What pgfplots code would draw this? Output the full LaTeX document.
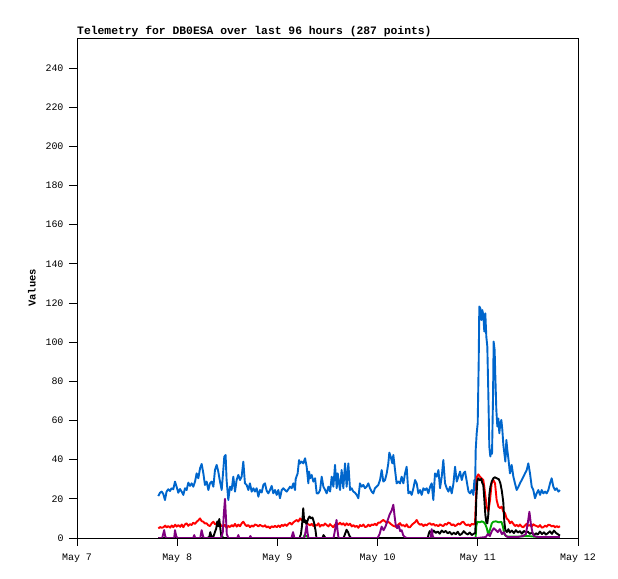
\documentclass[border=0pt]{standalone}
\usepackage{fontspec}
\setmainfont{Liberation Mono}
\setmonofont{Liberation Mono}
\usepackage{pgfplots}
\pgfplotsset{compat=1.18}
\definecolor{cblue}{RGB}{0,102,204}
\definecolor{cred}{RGB}{255,0,0}
\definecolor{cgreen}{RGB}{0,170,0}
\definecolor{cpurple}{RGB}{128,0,128}
\begin{document}
\begin{tikzpicture}
\path[use as bounding box] (0,0) rectangle (618bp,579bp);
\begin{axis}[
  at={(77bp,41bp)}, anchor=south west,
  scale only axis, width=501bp, height=500bp,
  xmin=0, xmax=5, ymin=0, ymax=255.3,
  xtick={0,1,2,3,4,5},
  xticklabels={May 7,May 8,May 9,May 10,May 11,May 12},
  ytick={0,20,...,240},
  xtick pos=bottom, ytick pos=left,
  tick align=outside, major tick length=8bp,
  tick style={black, line width=0.8bp},
  axis line style={black, line width=0.8bp},
  tick label style={font=\fontsize{10}{12}\selectfont},
  xticklabel style={yshift=-4bp},
  yticklabel style={xshift=-2bp},
  /pgf/number format/assume math mode=true,
  ylabel={Values},
  ylabel style={font=\bfseries\fontsize{10.5}{12}\selectfont, yshift=3bp},
  title={Telemetry for DB0ESA over last 96 hours (287 points)},
  title style={at={(0,1)}, anchor=base west, yshift=-2bp, inner sep=0pt,
    font=\bfseries\fontsize{11.4}{13}\selectfont},
  every axis plot/.append style={line width=1.9bp, line join=round},
]
% blue
\addplot[cblue] coordinates {
(0.811,21.4)(0.828,23.1)(0.845,23.7)(0.861,22.5)(0.878,19.4)(0.894,23.7)(0.911,24.9)(0.928,24.0)(0.944,25.4)(0.961,24.9)
(0.978,28.8)(0.994,26.2)(1.011,23.1)(1.028,25.0)(1.044,23.7)(1.061,22.0)(1.078,25.4)(1.094,24.5)(1.111,28.3)(1.128,26.6)
(1.144,27.9)(1.161,26.2)(1.178,28.8)(1.194,33.0)(1.211,30.5)(1.228,35.6)(1.244,37.8)(1.261,33.0)(1.277,27.1)(1.294,28.8)
(1.311,24.5)(1.327,27.9)(1.344,28.8)(1.361,26.2)(1.377,34.7)(1.394,37.3)(1.410,33.9)(1.427,28.8)(1.444,24.5)(1.460,34.7)
(1.470,41.5)(1.483,42.4)(1.493,29.6)(1.510,19.4)(1.527,26.2)(1.543,24.5)(1.560,31.3)(1.577,23.7)(1.593,29.6)(1.610,32.2)
(1.627,29.6)(1.643,31.3)(1.660,39.0)(1.676,27.9)(1.693,27.1)(1.710,24.5)(1.726,27.9)(1.743,23.7)(1.760,25.4)(1.776,23.7)
(1.793,25.4)(1.810,21.1)(1.826,24.5)(1.843,23.2)(1.860,27.1)(1.876,27.9)(1.893,24.1)(1.909,22.8)(1.926,24.5)(1.943,26.6)
(1.959,22.8)(1.976,24.5)(1.993,22.0)(2.009,24.5)(2.026,20.3)(2.043,24.5)(2.059,25.4)(2.076,24.5)(2.093,23.7)(2.109,24.9)
(2.126,26.2)(2.143,25.4)(2.159,27.9)(2.176,24.5)(2.182,30.0)(2.202,33.0)(2.216,39.8)(2.226,38.1)(2.242,39.0)(2.259,38.1)
(2.276,40.7)(2.292,36.4)(2.309,27.9)(2.316,33.9)(2.326,30.5)(2.342,32.2)(2.359,28.8)(2.376,30.5)(2.392,22.8)(2.409,22.8)
(2.426,24.5)(2.442,31.3)(2.459,26.2)(2.476,24.5)(2.492,22.8)(2.509,26.2)(2.526,23.7)(2.542,31.3)(2.559,26.2)(2.575,37.3)
(2.592,25.4)(2.602,33.0)(2.615,27.9)(2.625,24.5)(2.641,34.7)(2.658,25.4)(2.675,38.1)(2.691,26.2)(2.708,38.1)(2.725,24.5)
(2.741,25.4)(2.758,23.7)(2.775,23.1)(2.791,22.0)(2.808,20.3)(2.824,27.9)(2.841,26.2)(2.857,27.1)(2.874,25.4)(2.891,26.2)
(2.907,27.9)(2.924,25.4)(2.941,23.7)(2.957,22.8)(2.974,25.4)(2.990,26.2)(3.007,27.1)(3.024,29.6)(3.041,34.7)(3.057,28.8)
(3.074,29.6)(3.091,33.0)(3.107,38.1)(3.117,43.6)(3.131,41.5)(3.147,38.1)(3.157,42.4)(3.174,34.7)(3.190,27.9)(3.207,28.8)
(3.224,27.9)(3.240,31.3)(3.257,27.9)(3.274,33.0)(3.290,36.4)(3.307,22.8)(3.324,23.7)(3.340,22.0)(3.357,25.4)(3.374,29.6)
(3.390,27.9)(3.407,22.8)(3.424,24.5)(3.440,22.0)(3.457,25.4)(3.474,24.5)(3.490,25.4)(3.507,22.8)(3.524,26.2)(3.540,27.9)
(3.556,19.4)(3.573,33.0)(3.590,31.3)(3.607,34.7)(3.623,25.4)(3.640,31.3)(3.656,39.8)(3.673,27.9)(3.690,25.4)(3.707,23.7)
(3.723,26.2)(3.740,22.8)(3.757,27.9)(3.773,36.4)(3.790,28.8)(3.806,31.3)(3.823,33.9)(3.840,29.6)(3.857,33.0)(3.873,33.9)
(3.890,28.8)(3.907,23.7)(3.923,22.8)(3.940,24.5)(3.956,22.0)(3.966,29.6)(3.973,24.5)(3.979,45.0)(3.989,53.5)(3.999,58.6)
(4.009,90.1)(4.015,118.2)(4.025,117.3)(4.035,111.3)(4.045,116.4)(4.055,113.9)(4.065,105.4)(4.075,114.7)(4.085,102.8)(4.095,97.7)
(4.105,73.9)(4.115,46.7)(4.125,41.6)(4.135,44.8)(4.142,43.0)(4.152,72.2)(4.158,100.3)(4.168,96.0)(4.175,82.4)(4.185,65.4)
(4.195,56.9)(4.205,61.0)(4.215,53.5)(4.225,58.6)(4.235,60.3)(4.245,55.2)(4.255,47.5)(4.265,43.3)(4.275,39.0)(4.285,50.1)
(4.295,44.8)(4.305,40.7)(4.321,33.0)(4.338,37.3)(4.355,31.3)(4.371,27.9)(4.388,24.5)(4.404,26.0)(4.421,27.9)(4.438,29.6)
(4.455,31.3)(4.471,33.0)(4.488,34.7)(4.504,38.1)(4.521,33.0)(4.538,26.2)(4.554,24.5)(4.571,20.3)(4.588,22.8)(4.604,24.5)
(4.621,22.0)(4.638,24.5)(4.654,22.8)(4.671,23.7)(4.687,22.8)(4.704,24.5)(4.721,27.9)(4.737,30.5)(4.754,26.2)(4.771,24.5)
(4.787,25.4)(4.804,23.7)(4.820,24.5)
};
% red
\addplot[cred] coordinates {
(0.812,4.9)(0.830,5.6)(0.845,5.2)(0.862,5.5)(0.880,6.3)(0.895,5.4)(0.911,6.1)(0.930,5.3)(0.945,6.4)(0.961,5.5)
(0.980,6.8)(0.995,5.8)(1.011,6.6)(1.030,5.7)(1.045,6.9)(1.061,5.5)(1.078,7.0)(1.094,7.5)(1.110,6.2)(1.128,7.1)
(1.144,6.6)(1.160,7.8)(1.178,7.2)(1.194,8.3)(1.211,9.0)(1.228,10.0)(1.244,8.6)(1.261,8.3)(1.278,7.4)(1.294,7.5)
(1.310,6.5)(1.327,6.1)(1.344,7.5)(1.361,8.3)(1.378,7.0)(1.394,7.5)(1.410,6.6)(1.427,7.2)(1.444,6.1)(1.460,5.8)
(1.477,6.8)(1.494,5.0)(1.510,6.2)(1.527,5.6)(1.544,6.6)(1.560,5.9)(1.577,7.2)(1.594,5.8)(1.610,6.8)(1.627,6.0)
(1.644,7.5)(1.660,8.3)(1.677,6.9)(1.693,6.1)(1.710,6.6)(1.727,5.5)(1.743,6.4)(1.760,5.8)(1.776,6.9)(1.793,6.6)
(1.810,5.9)(1.826,6.7)(1.843,6.2)(1.860,5.8)(1.876,6.5)(1.893,5.4)(1.910,5.9)(1.926,5.0)(1.943,6.0)(1.960,5.5)
(1.976,6.2)(1.993,5.5)(2.010,6.4)(2.026,5.6)(2.043,6.7)(2.059,6.1)(2.076,7.0)(2.093,6.2)(2.110,7.2)(2.126,7.8)
(2.143,6.9)(2.160,8.0)(2.176,8.6)(2.192,9.2)(2.209,8.4)(2.226,10.0)(2.242,9.1)(2.259,10.4)(2.276,8.2)(2.292,7.5)
(2.309,7.0)(2.326,6.5)(2.342,7.2)(2.359,6.1)(2.376,6.8)(2.392,6.3)(2.409,7.5)(2.425,5.8)(2.442,6.7)(2.459,6.3)
(2.475,7.4)(2.492,6.6)(2.509,5.9)(2.525,7.1)(2.542,6.2)(2.558,5.5)(2.575,6.8)(2.592,7.6)(2.608,6.9)(2.625,7.8)
(2.642,6.8)(2.658,7.5)(2.675,6.4)(2.691,7.5)(2.708,6.6)(2.725,7.3)(2.742,5.9)(2.758,6.6)(2.775,5.7)(2.791,6.2)
(2.808,5.2)(2.825,6.6)(2.841,6.0)(2.858,6.9)(2.875,5.6)(2.891,5.8)(2.908,6.8)(2.924,6.0)(2.941,6.9)(2.957,6.6)
(2.974,7.3)(2.990,6.5)(3.007,7.9)(3.024,7.8)(3.040,8.6)(3.057,9.2)(3.074,8.5)(3.090,7.7)(3.107,8.3)(3.124,7.5)
(3.140,6.8)(3.157,6.2)(3.174,5.9)(3.190,5.5)(3.207,6.9)(3.224,7.6)(3.240,6.3)(3.257,6.6)(3.274,5.9)(3.290,7.0)
(3.307,5.5)(3.323,5.5)(3.340,6.6)(3.357,7.4)(3.373,8.0)(3.390,9.2)(3.407,7.5)(3.423,6.8)(3.440,7.1)(3.457,6.1)
(3.473,6.9)(3.490,6.4)(3.507,7.3)(3.523,7.5)(3.540,6.7)(3.557,7.2)(3.573,6.3)(3.590,6.6)(3.607,6.0)(3.623,7.0)
(3.640,6.4)(3.656,6.1)(3.673,7.2)(3.690,6.8)(3.706,7.9)(3.723,7.5)(3.740,6.5)(3.756,7.0)(3.773,6.1)(3.789,6.6)
(3.806,7.4)(3.823,6.9)(3.840,8.0)(3.856,8.3)(3.873,7.1)(3.890,6.4)(3.906,7.0)(3.922,6.1)(3.939,7.2)(3.956,6.9)
(3.972,7.5)(3.982,20.0)(3.989,31.0)(4.005,32.5)(4.022,31.3)(4.038,30.5)(4.055,29.6)(4.065,26.0)(4.072,22.8)(4.089,16.0)
(4.105,13.5)(4.122,19.4)(4.138,27.9)(4.155,29.6)(4.172,27.9)(4.188,19.4)(4.205,16.0)(4.222,15.3)(4.238,16.0)(4.255,13.5)
(4.272,12.6)(4.288,10.0)(4.305,9.2)(4.321,7.5)(4.338,8.4)(4.355,7.2)(4.371,6.1)(4.388,6.7)(4.405,5.9)(4.421,6.9)
(4.438,5.8)(4.455,5.5)(4.471,6.4)(4.488,7.3)(4.504,6.2)(4.521,6.6)(4.538,5.7)(4.554,7.0)(4.571,6.4)(4.588,6.1)
(4.604,5.6)(4.621,6.6)(4.638,5.3)(4.654,5.5)(4.671,6.3)(4.688,5.7)(4.704,6.8)(4.721,6.6)(4.737,5.9)(4.754,6.3)
(4.771,5.4)(4.787,6.1)(4.804,5.5)(4.820,6.0)
};
% green
\addplot[cgreen] coordinates {
(0.811,0)(1.44,0)(1.45,1.0)(1.46,0)(2.26,0)(2.27,1.5)(2.29,1.0)(2.31,0)(3.978,0)
(3.985,6.0)(3.995,8.3)(4.020,8.0)(4.040,8.5)(4.060,8.0)(4.075,7.0)(4.090,5.0)(4.105,1.5)(4.120,4.0)(4.140,7.5)
(4.155,8.3)(4.180,8.5)(4.210,8.0)(4.235,8.3)(4.250,6.0)(4.265,2.0)(4.280,1.0)(4.300,0.7)(4.400,0.7)(4.500,1.0)
(4.600,0.5)(4.700,0.5)(4.820,0.5)
};
% black
\addplot[black] coordinates {
(0.811,0)(1.30,0)(1.32,0.5)(1.33,3.0)(1.34,1.0)(1.36,0.5)(1.37,2.0)(1.39,5.0)(1.40,8.5)(1.41,6.0)(1.42,9.7)(1.43,5.0)(1.44,1.0)(1.45,0)
(2.22,0)(2.235,2.0)(2.245,6.0)(2.258,15.2)(2.268,8.0)(2.28,9.0)(2.29,7.0)(2.305,9.5)(2.32,11.0)(2.335,10.0)(2.35,10.5)(2.365,8.0)(2.38,4.0)(2.39,0)
(2.45,0)(2.46,1.5)(2.48,0)(2.66,0)(2.675,2.0)(2.69,4.2)(2.705,3.0)(2.72,1.0)(2.735,0)(3.50,0)
(3.51,2.0)(3.52,3.5)(3.54,2.5)(3.56,3.8)(3.58,2.6)(3.60,3.3)(3.62,2.2)(3.64,3.8)(3.66,2.9)(3.68,3.6)
(3.70,2.4)(3.72,3.1)(3.74,1.8)(3.76,2.7)(3.78,1.9)(3.80,3.2)(3.82,1.5)(3.84,2.1)(3.86,3.5)(3.88,2.4)
(3.90,1.8)(3.92,2.8)(3.94,1.5)(3.96,2.2)(3.975,2.5)(3.985,20.0)(3.995,29.0)(4.005,30.5)(4.020,29.5)(4.035,30.2)
(4.045,28.0)(4.055,27.0)(4.065,20.0)(4.075,12.0)(4.085,8.0)(4.095,7.5)(4.105,12.0)(4.115,22.0)(4.125,26.0)(4.140,29.0)
(4.155,30.5)(4.170,31.0)(4.190,30.5)(4.210,30.0)(4.225,28.0)(4.240,24.0)(4.255,18.0)(4.265,8.0)(4.275,4.1)(4.290,3.0)
(4.305,4.5)(4.320,2.8)(4.340,3.8)(4.360,2.5)(4.380,4.0)(4.400,2.8)(4.420,3.5)(4.440,2.2)(4.460,3.6)(4.480,2.9)
(4.500,3.2)(4.520,2.1)(4.540,2.8)(4.560,1.5)(4.580,2.4)(4.600,1.8)(4.620,3.3)(4.640,2.0)(4.660,2.9)(4.680,1.7)
(4.700,2.5)(4.720,3.4)(4.740,2.1)(4.760,3.8)(4.780,2.6)(4.800,1.9)(4.820,1.2)
};
% purple
\addplot[cpurple] coordinates {
(0.811,0)(0.85,0)(0.86,2.0)(0.87,4.0)(0.88,1.0)(0.89,0)(0.97,0)(0.978,4.0)(0.99,1.0)(1.00,0)
(1.16,0)(1.17,1.5)(1.18,0)(1.23,0)(1.244,4.0)(1.26,0.5)(1.27,0)(1.44,0)(1.455,3.0)(1.465,12.0)
(1.477,20.0)(1.485,12.0)(1.495,2.0)(1.51,0)(1.60,0)(1.61,1.5)(1.62,0)(1.72,0)(1.73,1.0)(1.74,0)
(2.14,0)(2.156,3.0)(2.17,0)(2.27,0)(2.28,3.0)(2.292,6.6)(2.30,3.0)(2.31,0)(2.56,0)(2.575,4.0)
(2.59,9.2)(2.60,4.0)(2.61,0)(3.00,0)(3.02,2.0)(3.04,5.8)(3.06,4.0)(3.08,6.0)(3.10,9.0)(3.12,12.0)
(3.14,14.0)(3.157,17.0)(3.17,11.0)(3.18,7.0)(3.195,5.0)(3.21,6.5)(3.225,3.5)(3.24,4.0)(3.255,1.5)(3.27,0.5)
(3.29,0)(3.53,0)(3.54,4.5)(3.55,1.0)(3.56,0)(4.00,0)(4.08,0.5)(4.10,2.0)(4.12,1.0)(4.14,3.5)
(4.16,5.0)(4.18,4.0)(4.20,3.0)(4.22,4.5)(4.24,2.0)(4.26,3.0)(4.28,1.0)(4.30,0.5)(4.35,0.5)(4.40,0.5)
(4.45,1.0)(4.48,2.0)(4.50,8.0)(4.515,13.4)(4.53,7.0)(4.545,3.0)(4.56,1.0)(4.60,0.5)(4.82,0.5)
};
\end{axis}
\end{tikzpicture}
\end{document}
